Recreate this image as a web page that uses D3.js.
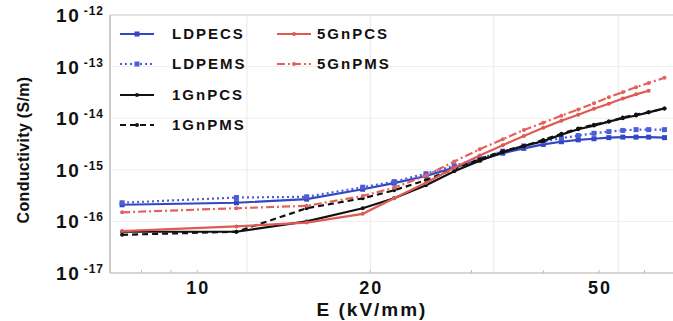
<!DOCTYPE html>
<html>
<head>
<meta charset="utf-8">
<title>Conductivity vs field</title>
<script src="https://cdn.jsdelivr.net/npm/d3@7/dist/d3.min.js"></script>
<style>
    body { margin: 0; background: #fff; }
    text { font-family: "Liberation Sans", Arial, sans-serif; font-weight: bold; fill: #111; }
</style>
</head>
<body>
<svg id="chart" width="673" height="321"></svg>
<script>
// field values, kV/mm
const field = [7.4, 11.7, 15.5, 19.4, 22, 25, 28, 31, 34, 37, 40, 43, 46, 49, 52, 55, 58, 61, 65];

// conductivity, S/m
const ldpeCS = [2.1e-16, 2.3e-16, 2.7e-16, 4.2e-16, 5.5e-16, 7.6e-16, 1.1e-15, 1.55e-15, 2.1e-15, 2.6e-15, 3.1e-15, 3.5e-15, 3.8e-15, 4.0e-15, 4.2e-15, 4.3e-15, 4.3e-15, 4.3e-15, 4.2e-15];
const ldpeMS = [2.3e-16, 2.9e-16, 3.0e-16, 4.6e-16, 5.9e-16, 8.4e-16, 1.2e-15, 1.65e-15, 2.3e-15, 2.9e-15, 3.5e-15, 4.1e-15, 4.6e-15, 5.1e-15, 5.5e-15, 5.8e-15, 6.0e-15, 6.0e-15, 6.0e-15];
const gn1CS = [6.3e-17, 6.3e-17, 1.0e-16, 1.8e-16, 2.8e-16, 5.0e-16, 9.4e-16, 1.5e-15, 2.2e-15, 2.9e-15, 3.6e-15, 4.8e-15, 6.1e-15, 7.2e-15, 8.6e-15, 1.0e-14, 1.13e-14, 1.3e-14, 1.55e-14];
const gn1MS = [5.5e-17, 6.3e-17, 1.8e-16, 2.8e-16, 4.0e-16, 6.3e-16, 1.05e-15, 1.6e-15, 2.3e-15, 2.9e-15, 3.8e-15, 5.0e-15, 6.3e-15, 7.5e-15, 8.6e-15, 1.03e-14, 1.18e-14, 1.3e-14, 1.55e-14];
const gn5CS = [6.5e-17, 8.0e-17, 9.5e-17, 1.4e-16, 2.8e-16, 5.6e-16, 1.1e-15, 1.9e-15, 3.0e-15, 4.5e-15, 6.5e-15, 8.9e-15, 1.17e-14, 1.52e-14, 1.9e-14, 2.4e-14, 2.9e-14, 3.4e-14];
const gn5MS = [1.5e-16, 1.8e-16, 2.0e-16, 3.1e-16, 4.5e-16, 7.7e-16, 1.45e-15, 2.5e-15, 3.9e-15, 5.9e-15, 8.2e-15, 1.12e-14, 1.48e-14, 1.95e-14, 2.55e-14, 3.2e-14, 4.0e-14, 4.8e-14, 6.1e-14];

const seriesNames = ["LDPECS", "LDPEMS", "1GnPCS", "1GnPMS", "5GnPCS", "5GnPMS"];

const xTicks = [10, 20, 50];
const xMinorTicks = [8, 9, 10, 20, 30, 40, 50, 60];
const yTicks = [-17, -16, -15, -14, -13, -12];   // exponents
const xGrid = [12.2, 20, 32.8, 54];
const yGrid = [1e-13, 1e-14, 1e-15, 1e-16];

const svg = d3.select("#chart");

const x = d3.scaleLog().domain([7.05, 70]).range([110, 683]);
const y = d3.scaleLog().domain([1e-17, 1e-12]).range([273, 15]);

const series = [
    {name: seriesNames[0], values: ldpeCS, color: "#3347c2", dash: null, marker: "square"},
    {name: seriesNames[1], values: ldpeMS, color: "#4a5ed6", dash: "2,3", marker: "square"},
    {name: seriesNames[2], values: gn1CS, color: "#111", dash: null, marker: "dot"},
    {name: seriesNames[3], values: gn1MS, color: "#111", dash: "6,4", marker: "dot"},
    {name: seriesNames[4], values: gn5CS, color: "#de5a52", dash: null, marker: "dot"},
    {name: seriesNames[5], values: gn5MS, color: "#e2625c", dash: "8,3,2,3", marker: "dot"}
];

/// grid
svg.append("g").selectAll("line").data(xGrid).join("line")
    .attr("x1", d => x(d)).attr("x2", d => x(d))
    .attr("y1", y(1e-12)).attr("y2", y(1e-17))
    .attr("stroke", "#e8e8e8").attr("stroke-width", 1);
svg.append("g").selectAll("line").data(yGrid).join("line")
    .attr("x1", 110).attr("x2", 673)
    .attr("y1", d => y(d)).attr("y2", d => y(d))
    .attr("stroke", "#eeeeee").attr("stroke-width", 1);

/// frame
svg.append("line").attr("x1", 110).attr("x2", 673).attr("y1", y(1e-12)).attr("y2", y(1e-12))
    .attr("stroke", "#d8d8d8").attr("stroke-width", 1.5);
svg.append("line").attr("x1", 110).attr("x2", 673).attr("y1", y(1e-17)).attr("y2", y(1e-17))
    .attr("stroke", "#c8c8c8").attr("stroke-width", 1.5);
svg.append("line").attr("x1", 110).attr("x2", 110).attr("y1", y(1e-12)).attr("y2", y(1e-17))
    .attr("stroke", "#bbb").attr("stroke-width", 1.5);

/// x minor ticks
svg.append("g").selectAll("line").data(xMinorTicks).join("line")
    .attr("x1", d => x(d)).attr("x2", d => x(d))
    .attr("y1", y(1e-17)).attr("y2", y(1e-17) - 3)
    .attr("stroke", "#bbb");

/// x tick labels
svg.append("g").selectAll("text").data(xTicks).join("text")
    .attr("x", d => x(d) + 1).attr("y", 294)
    .attr("text-anchor", "middle")
    .style("font-size", "18px")
    .style("letter-spacing", "2px")
    .text(d => d);

/// y tick labels
const yl = svg.append("g").selectAll("text").data(yTicks).join("text")
    .attr("x", 104).attr("y", d => y(Math.pow(10, d)) + 7)
    .attr("text-anchor", "end")
    .style("font-size", "19px")
    .style("letter-spacing", "1.5px");
yl.append("tspan").text("10");
yl.append("tspan").attr("dy", -7).style("font-size", "12px").style("letter-spacing", "1px").text(d => "\u2009" + d);

/// axis titles
svg.append("text")
    .attr("transform", `translate(29, 150) rotate(-90)`)
    .attr("text-anchor", "middle")
    .style("font-size", "16px")
    .style("letter-spacing", "0.3px")
    .text("Conductivity (S/m)");
svg.append("text")
    .attr("x", 372).attr("y", 316)
    .attr("text-anchor", "middle")
    .style("font-size", "19px")
    .style("letter-spacing", "2px")
    .text("E (kV/mm)");

/// lines
const line = d3.line()
    .x((d, i) => x(field[i]))
    .y(d => y(d));

const g = svg.append("g");
series.forEach(s => {
    g.append("path")
        .datum(s.values)
        .attr("fill", "none")
        .attr("stroke", s.color)
        .attr("stroke-width", 2.2)
        .attr("stroke-dasharray", s.dash)
        .attr("d", line);
    const pts = g.append("g").selectAll("*").data(s.values).join(s.marker === "square" ? "rect" : "circle");
    if (s.marker === "square") {
        pts.attr("x", (d, i) => x(field[i]) - 2.5).attr("y", d => y(d) - 2.5)
            .attr("width", 5).attr("height", 5).attr("fill", s.color);
    } else {
        pts.attr("cx", (d, i) => x(field[i])).attr("cy", d => y(d))
            .attr("r", 2).attr("fill", s.color);
    }
});

/// legend: line start x, row y, text x
const legendPos = [[120, 34, 172], [120, 64, 172], [120, 95, 172], [120, 125, 172], [277, 34, 317], [277, 64, 317]];
const lg = svg.append("g");
series.forEach((s, i) => {
    const [lx, ly, tx] = legendPos[i];
    lg.append("line")
        .attr("x1", lx).attr("x2", lx + 34).attr("y1", ly).attr("y2", ly)
        .attr("stroke", s.color).attr("stroke-width", 2.2)
        .attr("stroke-dasharray", s.dash);
    if (s.marker === "square") {
        lg.append("rect").attr("x", lx + 14.5).attr("y", ly - 2.5).attr("width", 5).attr("height", 5).attr("fill", s.color);
    } else {
        lg.append("circle").attr("cx", lx + 17).attr("cy", ly).attr("r", 2).attr("fill", s.color);
    }
    lg.append("text")
        .attr("x", tx).attr("y", ly + 5)
        .style("font-size", "15px")
        .style("letter-spacing", "2px")
        .text(s.name);
});
</script>
</body>
</html>
